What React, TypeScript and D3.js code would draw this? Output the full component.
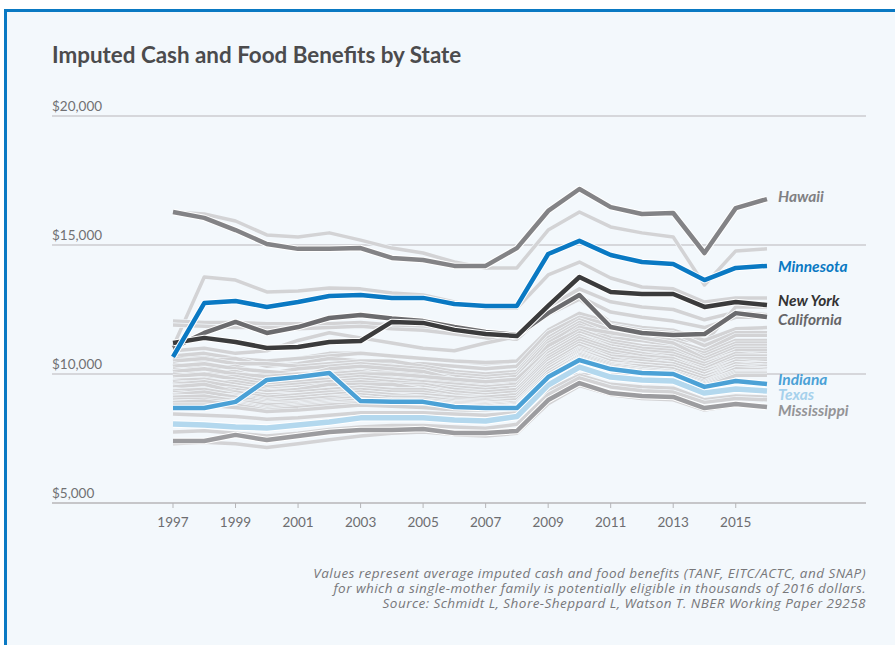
import React from 'react';
import * as d3 from 'd3';

const years = [1997, 1998, 1999, 2000, 2001, 2002, 2003, 2004, 2005, 2006, 2007, 2008, 2009, 2010, 2011, 2012, 2013, 2014, 2015, 2016];
const tickYears = [1997, 1999, 2001, 2003, 2005, 2007, 2009, 2011, 2013, 2015];
const yTicks = [5000, 10000, 15000, 20000];

// values in thousands of 2016 dollars
const hawaii = [16.28, 16.05, 15.58, 15.04, 14.85, 14.85, 14.88, 14.5, 14.42, 14.19, 14.19, 14.88, 16.32, 17.17, 16.47, 16.2, 16.24, 14.69, 16.43, 16.78];
const minnesota = [10.66, 12.75, 12.83, 12.6, 12.79, 13.02, 13.06, 12.95, 12.95, 12.71, 12.64, 12.64, 14.65, 15.16, 14.61, 14.34, 14.26, 13.64, 14.11, 14.19];
const newYork = [11.2, 11.4, 11.24, 11.01, 11.05, 11.24, 11.28, 12.02, 11.98, 11.71, 11.55, 11.47, 12.64, 13.76, 13.18, 13.1, 13.1, 12.6, 12.79, 12.67];
const california = [11.01, 11.59, 12.02, 11.59, 11.82, 12.17, 12.29, 12.15, 12.05, 11.82, 11.63, 11.51, 12.36, 13.06, 11.82, 11.59, 11.51, 11.55, 12.36, 12.21];
const indiana = [8.68, 8.68, 8.92, 9.77, 9.88, 10.04, 8.95, 8.92, 8.92, 8.72, 8.68, 8.68, 9.88, 10.54, 10.19, 10.04, 10.0, 9.5, 9.73, 9.61];
const texas = [8.06, 8.02, 7.95, 7.91, 8.02, 8.14, 8.3, 8.3, 8.3, 8.22, 8.18, 8.35, 9.57, 10.27, 9.88, 9.77, 9.73, 9.26, 9.42, 9.34];
const mississippi = [7.4, 7.4, 7.64, 7.44, 7.6, 7.75, 7.83, 7.83, 7.87, 7.71, 7.71, 7.79, 8.99, 9.65, 9.26, 9.15, 9.11, 8.68, 8.84, 8.72];

const otherStates = [
  [16.28, 16.2, 15.93, 15.39, 15.31, 15.47, 15.19, 14.88, 14.69, 14.34, 14.11, 14.11, 15.58, 16.28, 15.7, 15.47, 15.31, 13.45, 14.77, 14.85],
  [11.05, 13.76, 13.64, 13.18, 13.22, 13.33, 13.3, 13.14, 13.06, 12.79, 12.56, 12.56, 13.84, 14.34, 13.72, 13.37, 13.3, 12.79, 12.95, 12.95],
  [12.05, 12.0, 12.0, 11.95, 11.95, 11.95, 12.0, 11.9, 11.8, 11.7, 11.5, 11.45, 12.6, 13.3, 12.8, 12.6, 12.5, 12.1, 12.4, 12.3],
  [11.9, 11.85, 11.8, 11.8, 11.75, 11.8, 11.85, 11.75, 11.7, 11.55, 11.4, 11.35, 12.4, 13.0, 12.4, 12.2, 12.05, 11.8, 12.2, 12.2],
  [10.9, 11.0, 10.8, 10.9, 11.3, 11.6, 11.4, 11.2, 11.0, 10.9, 11.2, 11.45, 12.3, 12.9, 12.0, 11.7, 11.6, 11.3, 11.7, 11.6],
  [10.6, 10.7, 10.6, 10.4, 10.6, 10.8, 10.8, 10.7, 10.6, 10.5, 10.4, 10.5, 11.6, 12.2, 11.8, 11.6, 11.4, 11.2, 12.6, 12.6],
  [10.7, 10.8, 10.6, 10.5, 10.6, 10.7, 10.8, 10.7, 10.6, 10.5, 10.45, 10.5, 11.7, 12.35, 12.0, 11.8, 11.7, 11.3, 11.75, 11.8],
  [10.6, 10.5, 10.6, 10.3, 10.4, 10.6, 10.5, 10.4, 10.4, 10.3, 10.2, 10.3, 11.6, 12.2, 11.9, 11.7, 11.6, 11.1, 11.6, 11.6],
  [10.5, 10.6, 10.4, 10.4, 10.3, 10.4, 10.5, 10.5, 10.3, 10.1, 10.0, 10.1, 11.4, 12.1, 11.7, 11.5, 11.3, 10.9, 11.5, 11.5],
  [10.4, 10.2, 10.3, 10.0, 10.2, 10.3, 10.4, 10.3, 10.2, 10.0, 9.9, 10.0, 11.3, 12.0, 11.5, 11.3, 11.2, 10.8, 11.3, 11.3],
  [10.3, 10.4, 10.2, 10.1, 10.0, 10.1, 10.2, 10.1, 10.0, 9.9, 9.8, 9.9, 11.2, 11.9, 11.4, 11.3, 11.1, 10.7, 11.2, 11.2],
  [10.2, 10.0, 10.1, 9.8, 9.9, 10.2, 10.3, 10.2, 10.1, 9.8, 9.7, 9.8, 11.0, 11.8, 11.6, 11.4, 11.2, 10.6, 11.1, 11.1],
  [10.1, 10.2, 10.0, 9.9, 10.0, 10.0, 10.1, 9.9, 9.8, 9.7, 9.6, 9.7, 11.1, 11.7, 11.3, 11.1, 11.0, 10.5, 11.0, 11.0],
  [10.0, 9.9, 9.9, 9.7, 9.8, 9.9, 10.0, 10.0, 9.9, 9.8, 9.7, 9.8, 10.9, 11.6, 11.2, 11.0, 10.9, 10.4, 10.9, 10.9],
  [9.9, 10.0, 9.8, 9.6, 9.7, 9.8, 9.9, 9.8, 9.7, 9.6, 9.5, 9.6, 10.8, 11.5, 11.1, 10.9, 10.8, 10.4, 10.8, 10.8],
  [9.8, 9.7, 9.7, 9.5, 9.6, 9.7, 9.8, 9.7, 9.6, 9.5, 9.4, 9.5, 10.8, 11.5, 11.0, 10.8, 10.7, 10.3, 10.8, 10.7],
  [9.75, 9.8, 9.6, 9.4, 9.5, 9.6, 9.7, 9.6, 9.6, 9.4, 9.3, 9.4, 10.7, 11.4, 11.0, 10.8, 10.6, 10.2, 10.7, 10.7],
  [9.7, 9.6, 9.5, 9.35, 9.4, 9.5, 9.6, 9.5, 9.5, 9.3, 9.3, 9.4, 10.6, 11.3, 10.9, 10.7, 10.6, 10.1, 10.6, 10.6],
  [9.6, 9.7, 9.5, 9.3, 9.4, 9.6, 9.6, 9.6, 9.4, 9.3, 9.2, 9.3, 10.5, 11.2, 10.8, 10.6, 10.5, 10.1, 10.5, 10.5],
  [9.55, 9.5, 9.4, 9.2, 9.3, 9.4, 9.5, 9.4, 9.4, 9.2, 9.1, 9.2, 10.4, 11.1, 10.7, 10.6, 10.4, 10.0, 10.5, 10.4],
  [9.5, 9.6, 9.3, 9.2, 9.2, 9.3, 9.4, 9.3, 9.3, 9.1, 9.1, 9.2, 10.4, 11.1, 10.6, 10.5, 10.4, 10.0, 10.4, 10.4],
  [9.4, 9.3, 9.3, 9.1, 9.2, 9.3, 9.3, 9.2, 9.2, 9.1, 9.0, 9.1, 10.3, 11.0, 10.6, 10.4, 10.3, 9.9, 10.4, 10.3],
  [9.35, 9.4, 9.2, 9.0, 9.1, 9.2, 9.3, 9.2, 9.1, 9.0, 8.95, 9.0, 10.2, 10.95, 10.5, 10.4, 10.3, 9.9, 10.3, 10.3],
  [9.3, 9.2, 9.15, 8.95, 9.0, 9.1, 9.2, 9.1, 9.1, 8.95, 8.9, 9.0, 10.2, 10.9, 10.5, 10.3, 10.2, 9.8, 10.3, 10.2],
  [9.2, 9.3, 9.1, 8.9, 9.0, 9.1, 9.1, 9.0, 9.0, 8.9, 8.85, 8.9, 10.1, 10.85, 10.4, 10.3, 10.2, 9.8, 10.2, 10.2],
  [9.15, 9.1, 9.0, 8.85, 8.9, 9.0, 9.1, 9.0, 8.95, 8.85, 8.8, 8.9, 10.1, 10.8, 10.4, 10.2, 10.1, 9.7, 10.2, 10.15],
  [9.1, 9.15, 8.95, 8.8, 8.85, 8.95, 9.0, 8.95, 8.9, 8.8, 8.75, 8.85, 10.0, 10.75, 10.35, 10.2, 10.1, 9.7, 10.1, 10.1],
  [9.0, 9.0, 8.9, 8.7, 8.8, 8.9, 9.0, 8.9, 8.85, 8.75, 8.7, 8.8, 10.0, 10.7, 10.3, 10.15, 10.05, 9.65, 10.1, 10.1],
  [8.95, 8.9, 8.85, 8.65, 8.75, 8.85, 8.9, 8.85, 8.8, 8.7, 8.7, 8.75, 9.9, 10.65, 10.25, 10.1, 10.0, 9.6, 10.05, 10.05],
  [8.9, 8.95, 8.8, 8.6, 8.7, 8.8, 8.85, 8.8, 8.75, 8.7, 8.65, 8.75, 9.9, 10.6, 10.2, 10.05, 10.0, 9.55, 10.0, 10.0],
  [8.8, 8.8, 8.7, 8.55, 8.6, 8.7, 8.8, 8.75, 8.7, 8.6, 8.6, 8.7, 9.85, 10.6, 10.2, 10.0, 9.95, 9.5, 9.95, 9.95],
  [8.45, 8.4, 8.35, 8.25, 8.3, 8.4, 8.5, 8.5, 8.5, 8.45, 8.4, 8.5, 9.4, 9.95, 9.6, 9.5, 9.45, 9.0, 9.15, 9.1],
  [7.75, 7.8, 7.7, 7.6, 7.7, 7.85, 7.95, 8.0, 8.0, 7.95, 7.9, 8.05, 9.2, 9.85, 9.5, 9.35, 9.3, 8.9, 9.05, 9.0],
  [7.3, 7.35, 7.3, 7.15, 7.3, 7.45, 7.6, 7.7, 7.75, 7.65, 7.6, 7.7, 8.85, 9.55, 9.2, 9.05, 9.0, 8.6, 8.8, 8.7],
];

const highlighted = [
  { name: 'Mississippi', values: mississippi, color: '#9c9c9f', label: '#949497', width: 4.5, dy: 5 },
  { name: 'Texas', values: texas, color: '#b3d8ee', label: '#a6d1ec', width: 5.5, dy: 5 },
  { name: 'Indiana', values: indiana, color: '#4ba1d6', label: '#4ba1d6', width: 4.5, dy: -3 },
  { name: 'California', values: california, color: '#6b6b6e', label: '#666669', width: 4.5, dy: 4 },
  { name: 'New York', values: newYork, color: '#3b3b3c', label: '#333334', width: 4.5, dy: -3 },
  { name: 'Hawaii', values: hawaii, color: '#838386', label: '#808083', width: 4.5, dy: -1 },
  { name: 'Minnesota', values: minnesota, color: '#0a79c3', label: '#0a79c3', width: 4.5, dy: 2 },
];

const W = 895;
const H = 645;
const x = d3.scaleLinear().domain([1997, 2016]).range([173, 767]);
const y = d3.scaleLinear().domain([5000, 20000]).range([503, 116]);
const lineGen = d3
  .line<number>()
  .x((_, i) => x(years[i]))
  .y((d) => y(d * 1000));

const fmt = (v: number) => '$' + d3.format(',')(v);
const FONT = 'Lato, "Open Sans", sans-serif';
const NOTE_FONT = '"Open Sans", Lato, sans-serif';

export default function App() {
  return (
    <div style={{ position: 'absolute', left: 0, top: 0 }}>
      <svg width={W} height={H} style={{ display: 'block' }}>
        <rect x={0} y={0} width={W} height={H} fill="#ffffff" />
        <rect x={5.5} y={10.5} width={W + 20} height={H + 20} fill="#f3f8fc" stroke="#0a79c3" strokeWidth={3} />
        <text x={52} y={63} fontFamily={FONT} fontSize={22.4} fontWeight={700} fill="#4b4b4d">
          Imputed Cash and Food Benefits by State
        </text>
        {yTicks.map((t) => (
          <g key={t}>
            <line x1={52} x2={866} y1={y(t)} y2={y(t)} stroke={t === 5000 ? '#c6c6c9' : '#cdcdd0'} strokeWidth={t === 5000 ? 2 : 1.3} />
            <text x={52} y={y(t) - 5} fontFamily={FONT} fontSize={13.5} fill="#707073">
              {fmt(t)}
            </text>
          </g>
        ))}
        {tickYears.map((yr) => (
          <g key={yr}>
            <line x1={x(yr)} x2={x(yr)} y1={503} y2={508} stroke="#b5b5b8" strokeWidth={1} />
            <text x={x(yr)} y={527} textAnchor="middle" fontFamily={FONT} fontSize={13.5} fill="#6d6d70">
              {yr}
            </text>
          </g>
        ))}
        {otherStates.map((vals, i) => (
          <g key={'o' + i}>
            <path d={lineGen(vals) || ''} fill="none" stroke="#f3f8fc" strokeWidth={4.8} strokeLinejoin="round" />
            <path d={lineGen(vals) || ''} fill="none" stroke="#d3d3d5" strokeWidth={3.5} strokeLinejoin="round" />
          </g>
        ))}
        {highlighted.map((s) => (
          <g key={s.name}>
            <path d={lineGen(s.values) || ''} fill="none" stroke="#ffffff" strokeWidth={s.width + 2} strokeLinejoin="round" />
            <path d={lineGen(s.values) || ''} fill="none" stroke={s.color} strokeWidth={s.width} strokeLinejoin="round" />
          </g>
        ))}
        {highlighted.map((s) => (
          <text
            key={'l' + s.name}
            x={778}
            y={y(s.values[s.values.length - 1] * 1000) + s.dy}
            dominantBaseline="middle"
            fontFamily={FONT}
            fontSize={15.5}
            fontWeight={700}
            fontStyle="italic"
            fill={s.label}
          >
            {s.name}
          </text>
        ))}
        <g fontFamily={NOTE_FONT} fontSize={13.5} letterSpacing={0.45} fontStyle="italic" fill="#77777a" textAnchor="end">
          <text x={866} y={578}>Values represent average imputed cash and food benefits (TANF, EITC/ACTC, and SNAP)</text>
          <text x={866} y={593}>for which a single-mother family is potentially eligible in thousands of 2016 dollars.</text>
          <text x={866} y={608}>Source: Schmidt L, Shore-Sheppard L, Watson T. NBER Working Paper 29258</text>
        </g>
      </svg>
    </div>
  );
}
